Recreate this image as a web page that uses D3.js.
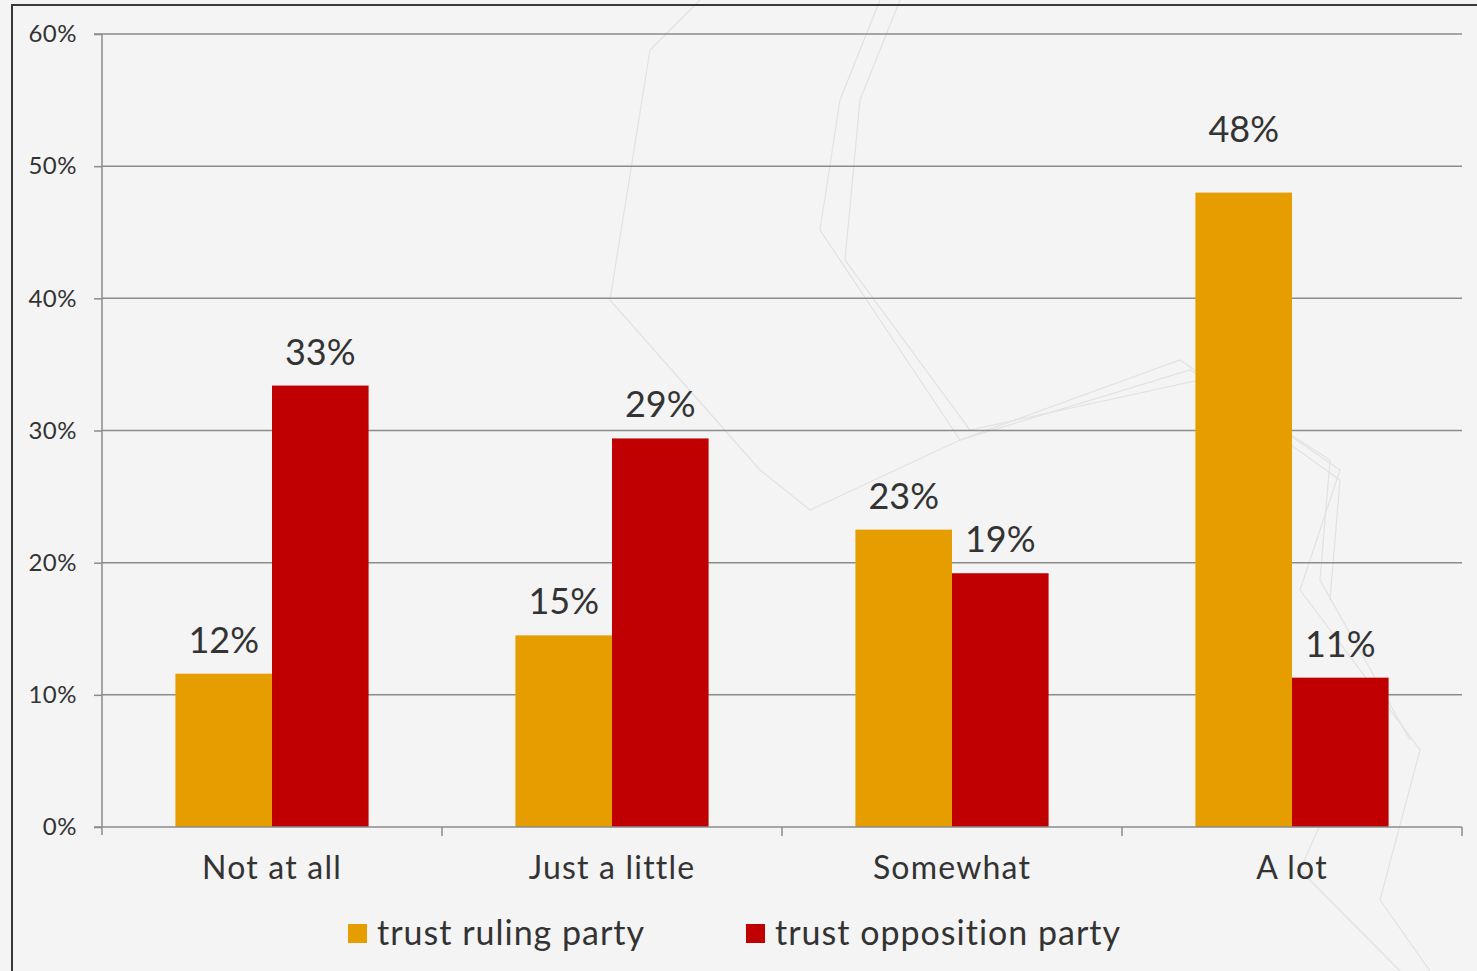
<!DOCTYPE html>
<html>
<head>
<meta charset="utf-8">
<script src="https://cdn.jsdelivr.net/npm/d3@7"></script>
<style>
  html, body { margin: 0; padding: 0; background: #f4f4f4; }
  svg { display: block; }
  text { font-family: Lato, "Noto Sans", sans-serif; fill: #333; }
</style>
</head>
<body>
<svg id="chart" width="1477" height="971"></svg>
<script>
const categories = ["Not at all", "Just a little", "Somewhat", "A lot"];
const seriesNames = ["trust ruling party", "trust opposition party"];
const rulingValues = [11.6, 14.5, 22.5, 48.0];
const oppositionValues = [33.4, 29.4, 19.2, 11.3];
const rulingLabels = ["12%", "15%", "23%", "48%"];
const oppositionLabels = ["33%", "29%", "19%", "11%"];
const yTicks = [0, 10, 20, 30, 40, 50, 60];
const colors = ["#E59D00", "#C00000"];

(function () {
const svg = d3.select("#chart");
const W = 1477, H = 971;
const mLeft = 102, mRight = 1462, mTop = 34, mBottom = 827;

svg.append("rect").attr("width", W).attr("height", H).attr("fill", "#f4f4f4");
const deco = svg.append("g").attr("fill", "none").attr("stroke", "#e2e2e2").attr("stroke-width", 1.2);
deco.append("path").attr("d", "M700,0 L650,50 L610,300 L760,470 L810,510 L960,440 L1180,360 L1340,470 L1300,590 L1420,750 L1380,900 L1430,971");
deco.append("path").attr("d", "M880,0 L840,100 L820,230 L960,440 L1190,370 L1330,460 L1320,580 L1410,740");
deco.append("path").attr("d", "M900,0 L860,100 L845,260 L970,430 L1200,380 L1340,480 L1330,600");
deco.append("path").attr("d", "M1340,780 L1300,870 L1400,971");
svg.append("rect").attr("x", 12).attr("y", 5).attr("width", W).attr("height", H)
  .attr("fill", "none").attr("stroke", "#3a3a3a").attr("stroke-width", 2);

const y = d3.scaleLinear().domain([0, 60]).range([mBottom, mTop]);
const x0 = d3.scaleBand().domain(categories).range([mLeft, mRight]).paddingInner(0).paddingOuter(0);
const x1 = d3.scaleBand().domain(seriesNames).range([0, x0.bandwidth()]).paddingOuter(0.76).paddingInner(0);

svg.append("g").selectAll("line").data(yTicks.filter(d => d > 0)).join("line")
  .attr("x1", mLeft).attr("x2", mRight)
  .attr("y1", d => y(d)).attr("y2", d => y(d))
  .attr("stroke", "#8c8c8c").attr("stroke-width", 1.5);

const yAxis = d3.axisLeft(y).tickValues(yTicks).tickFormat(d => d + "%").tickSize(8).tickPadding(17);
const gy = svg.append("g").attr("transform", `translate(${mLeft},0)`).call(yAxis);
gy.select(".domain").attr("stroke", "#8c8c8c").attr("stroke-width", 1.5).attr("d", `M-8,${mTop}H0V${mBottom + 8}`);
gy.selectAll(".tick line").attr("stroke", "#8c8c8c").attr("stroke-width", 1.5);
gy.selectAll(".tick text").attr("font-size", 24).attr("fill", "#333")
  .style("font-family", "Lato, sans-serif").style("letter-spacing", "0.5px");

const data = categories.map((c, i) => ({ cat: c, vals: [rulingValues[i], oppositionValues[i]], labels: [rulingLabels[i], oppositionLabels[i]] }));
const groups = svg.append("g").selectAll("g").data(data).join("g")
  .attr("transform", d => `translate(${x0(d.cat)},0)`);
groups.selectAll("rect").data(d => d.vals.map((v, j) => ({ v, j, name: seriesNames[j] }))).join("rect")
  .attr("x", d => x1(d.name)).attr("width", x1.bandwidth())
  .attr("y", d => y(d.v)).attr("height", d => mBottom - y(d.v))
  .attr("fill", d => colors[d.j]);
groups.selectAll("text").data(d => d.vals.map((v, j) => ({ v, j, name: seriesNames[j], label: d.labels[j] }))).join("text")
  .attr("x", d => x1(d.name) + x1.bandwidth() / 2)
  .attr("y", d => {
    const base = y(d.v) - 21;
    const grid = y(Math.ceil(d.v / 10) * 10);
    return (y(d.v) - grid < 35 && d.v > 45) ? grid - 24 : base;
  })
  .attr("text-anchor", "middle").attr("font-size", 36)
  .text(d => d.label);

const xAxis = d3.axisBottom(x0).tickSize(0).tickPadding(29);
const gx = svg.append("g").attr("transform", `translate(0,${mBottom})`).call(xAxis);
gx.select(".domain").remove();
gx.selectAll(".tick text").attr("font-size", 32).attr("fill", "#333")
  .style("font-family", "Lato, sans-serif").style("letter-spacing", "1.2px");
svg.append("line").attr("x1", mLeft - 8).attr("x2", mRight).attr("y1", mBottom).attr("y2", mBottom)
  .attr("stroke", "#8c8c8c").attr("stroke-width", 1.5);
svg.append("g").selectAll("line").data(categories.slice(1).map(c => x0(c)).concat([mRight])).join("line")
  .attr("x1", d => d).attr("x2", d => d).attr("y1", mBottom).attr("y2", mBottom + 9)
  .attr("stroke", "#8c8c8c").attr("stroke-width", 1.5);

const legendX = [348, 746];
const lg = svg.append("g").selectAll("g").data(seriesNames).join("g")
  .attr("transform", (d, i) => `translate(${legendX[i]},924)`);
lg.append("rect").attr("width", 19).attr("height", 19).attr("fill", (d, i) => colors[i]);
lg.append("text").attr("x", 29).attr("y", 21).attr("font-size", 34)
  .style("letter-spacing", "1px").text(d => d);
})();
</script>
</body>
</html>
